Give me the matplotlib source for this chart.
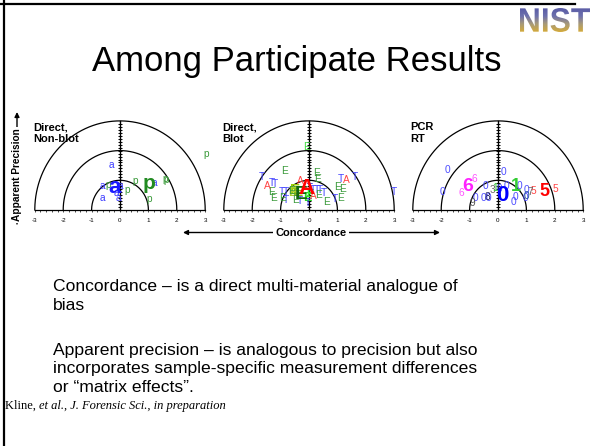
import numpy as np
import matplotlib
matplotlib.use("Agg")
import matplotlib.pyplot as plt
from matplotlib.colors import LinearSegmentedColormap
from matplotlib.font_manager import FontProperties
from matplotlib.patches import PathPatch
from matplotlib.textpath import TextPath

plt.rcParams["font.family"] = ["Liberation Sans", "DejaVu Sans"]

W, H = 593, 446

# ---- panel 1: Direct, Non-blot ----
P1_A_X = [-0.29, -0.61, 0.02, -0.12, -0.06, -0.61, 1.21]
P1_A_Y = [1.52, 0.81, 0.81, 0.58, 0.39, 0.39, 0.90]
P1_P_X = [-0.43, 0.24, 0.53, 1.02, 1.64, 1.60, 3.03]
P1_P_Y = [0.84, 0.67, 0.98, 0.37, 1.01, 1.03, 1.90]
P1_MEAN_LAB = ["a", "p"]
P1_MEAN_X = [-0.20, 1.03]
P1_MEAN_Y = [0.76, 0.90]

# ---- panel 2: Direct, Blot ----
P2_T_X = [-1.66, -1.31, -1.19, -0.97, -0.83, -0.82, -0.31, 0.02, 0.12, 0.26,
          0.38, 0.52, 0.91, 1.13, 1.62, 2.99, -0.05]
P2_T_Y = [1.11, 0.91, 0.88, 0.62, 0.62, 0.34, 0.30, 0.73, 0.68, 0.67,
          0.67, 0.57, 0.37, 1.05, 1.10, 0.62, 0.25]
P2_E_X = [-0.87, 0.28, 0.31, -1.31, -1.26, -0.93, -0.49, 0.33, 0.60, 1.00,
          1.19, 1.12, -0.62]
P2_E_Y = [1.30, 1.24, 1.05, 0.60, 0.39, 0.39, 0.34, 0.50, 0.28, 0.76,
          0.70, 0.41, 0.64]
P2_A_X = [-1.48, -0.29, 0.15, 1.32]
P2_A_Y = [0.80, 0.97, 0.46, 1.01]
P2_LIME_X = [-0.08, -0.50, -0.38, -0.60, -0.05, 0.05]
P2_LIME_Y = [2.13, 0.68, 0.62, 0.58, 0.40, 0.55]
P2_MEAN_LAB = ["E", "A"]
P2_MEAN_X = [-0.26, -0.10]
P2_MEAN_Y = [0.52, 0.73]

# ---- panel 3: PCR RT ----
P3_0_X = [-1.79, -1.95, -0.43, -0.78, -0.50, -0.32, 0.04, 0.18, 0.53, 0.62,
          0.76, 0.99, 0.97, 0.30]
P3_0_Y = [1.35, 0.62, 0.81, 0.39, 0.39, 0.42, 0.70, 1.29, 0.28, 0.45,
          0.81, 0.67, 0.39, 0.80]
P3_6_X = [-1.29, -0.82]
P3_6_Y = [0.58, 1.04]
P3_5_X = [1.25, 2.02]
P3_5_Y = [0.64, 0.70]
P3_OTHER_LAB = ["9", "8", "3", "7", "1", "0"]
P3_OTHER_X = [-0.90, -0.37, -0.20, 1.13, -0.10, 1.00]
P3_OTHER_Y = [0.25, 0.45, 0.67, 0.60, 0.75, 0.47]
P3_MEAN_LAB = ["6", "0", "1", "5"]
P3_MEAN_X = [-1.05, 0.15, 0.64, 1.64]
P3_MEAN_Y = [0.79, 0.50, 0.79, 0.62]

TICKS = [-3, -2, -1, 0, 1, 2, 3]

fig = plt.figure(figsize=(W / 100, H / 100), dpi=100)
bg = fig.add_axes([0, 0, 1, 1])
bg.set_xlim(0, W); bg.set_ylim(H, 0); bg.axis("off")

UX, UY = 28.4, 29.7
XL, YL = (-3.6, 3.6), (-0.6, 3.4)
SMALL = 7.3


def panel(cx, base):
    left = cx + XL[0] * UX
    top = base - YL[1] * UY
    w = (XL[1] - XL[0]) * UX
    h = (YL[1] - YL[0]) * UY
    ax = fig.add_axes([left / W, (H - top - h) / H, w / W, h / H])
    ax.set_xlim(*XL); ax.set_ylim(*YL); ax.axis("off")
    th = np.linspace(0, np.pi, 200)
    for r in (1, 2, 3):
        ax.plot(r * np.cos(th), r * np.sin(th), color="black", lw=0.9)
    ax.plot([-3, 3], [0, 0], color="black", lw=0.9)
    tx = np.arange(-3, 3.01, 0.2)
    ax.vlines(tx, -0.07, 0, color="black", lw=0.5)
    ax.plot([0, 0], [0, 3], color="black", lw=1.0)
    ty = np.arange(0.1, 3.0, 0.1)
    ax.hlines(ty, -0.07, 0.07, color="black", lw=0.7)
    for t in TICKS:
        ax.text(t, -0.34, str(t), ha="center", va="center", fontsize=4.5)
    return ax


def letters(ax, lab, xs, ys, color, size, bold=False):
    if isinstance(lab, str):
        lab = [lab] * len(xs)
    for l, x, y in zip(lab, xs, ys):
        ax.text(x, y, l, ha="center", va="center", color=color, fontsize=size,
                fontweight="bold" if bold else "normal")


ax1 = panel(120, 210)
letters(ax1, "a", P1_A_X, P1_A_Y, "#3b3bff", SMALL)
letters(ax1, "p", P1_P_X, P1_P_Y, "#3a9a3a", SMALL)
letters(ax1, [P1_MEAN_LAB[0]], P1_MEAN_X[:1], P1_MEAN_Y[:1], "#1a1aff", 16, True)
letters(ax1, [P1_MEAN_LAB[1]], P1_MEAN_X[1:], P1_MEAN_Y[1:], "#228b22", 15, True)

ax2 = panel(309, 210)
lime_cols = ["#44dd44", "#99cc00", "#88bb11", "#aacc33", "#22dd22", "#33ee33"]
lime_size = [SMALL, 11, 11, 9, 9, 8]
for x, y, c, s in zip(P2_LIME_X, P2_LIME_Y, lime_cols, lime_size):
    letters(ax2, "E", [x], [y], c, s, s > SMALL)
letters(ax2, "T", P2_T_X, P2_T_Y, "#4444ff", SMALL)
letters(ax2, "E", P2_E_X, P2_E_Y, "#3a9a3a", SMALL)
letters(ax2, "A", P2_A_X, P2_A_Y, "#ff4444", SMALL)
letters(ax2, [P2_MEAN_LAB[0]], P2_MEAN_X[:1], P2_MEAN_Y[:1], "#116611", 14, True)
letters(ax2, [P2_MEAN_LAB[1]], P2_MEAN_X[1:], P2_MEAN_Y[1:], "#ff0000", 16, True)

ax3 = panel(498, 210)
letters(ax3, "0", P3_0_X, P3_0_Y, "#4d4dff", SMALL)
letters(ax3, "6", P3_6_X, P3_6_Y, "#ff55ff", SMALL)
letters(ax3, "5", P3_5_X, P3_5_Y, "#ff4444", SMALL)
other_cols = ["#555555", "#222266", "#666666", "#666666", "#33cc33", "#225599"]
for l, x, y, c in zip(P3_OTHER_LAB, P3_OTHER_X, P3_OTHER_Y, other_cols):
    letters(ax3, [l], [x], [y], c, SMALL)
mean_cols = ["#ff22ff", "#0000ff", "#33cc33", "#ff0000"]
mean_size = [14, 16, 13, 13]
for l, x, y, c, s in zip(P3_MEAN_LAB, P3_MEAN_X, P3_MEAN_Y, mean_cols, mean_size):
    letters(ax3, [l], [x], [y], c, s, True)

# panel names
for x, name in [(33, "Direct,\nNon-blot"), (222, "Direct,\nBlot"), (410, "PCR\nRT")]:
    bg.text(x, 122, name, ha="left", va="top", fontsize=8, fontweight="bold",
            linespacing=1.25)

# axis arrows
bg.annotate("", xy=(183, 232.5), xytext=(440, 232.5),
            arrowprops=dict(arrowstyle="<|-|>", color="black", lw=1.0,
                            mutation_scale=7, shrinkA=0, shrinkB=0))
bg.text(311, 232.5, "Concordance", ha="center", va="center", fontsize=8,
        fontweight="bold", bbox=dict(fc="white", ec="none", pad=1.5))
bg.annotate("", xy=(17, 112), xytext=(17, 224),
            arrowprops=dict(arrowstyle="-|>", color="black", lw=1.0,
                            mutation_scale=7, shrinkA=0, shrinkB=0))
bg.text(17, 175, "Apparent Precision", ha="center", va="center", rotation=90,
        fontsize=7.3, fontweight="bold", bbox=dict(fc="white", ec="none", pad=1.0))

# title and body text
bg.text(297, 62, "Among Participate Results", ha="center", va="center", fontsize=25)
body = [(287, "Concordance \u2013 is a direct multi-material analogue of"),
        (306, "bias"),
        (350, "Apparent precision \u2013 is analogous to precision but also"),
        (368.5, "incorporates sample-specific measurement differences"),
        (387, "or \u201cmatrix effects\u201d.")]
for y, s in body:
    bg.text(53, y, s, ha="left", va="center", fontsize=12.6)

serif = ["Liberation Serif", "DejaVu Serif"]
t1 = bg.text(5, 406, "Kline, ", ha="left", va="center", fontsize=9, family=serif)
bg.annotate("et al., J. Forensic Sci., in preparation", xy=(1, 0.5), xycoords=t1,
            ha="left", va="center", fontsize=9, family=serif, style="italic")

# slide border
bg.plot([4, 4], [0, H], color="black", lw=1.6)
bg.plot([0, 575], [3.5, 3.5], color="black", lw=1.6)

# NIST logo
lg = fig.add_axes([520 / W, (H - 32) / H, 70 / W, 24 / H])
tp = TextPath((0, 0), "NIST", size=1,
              prop=FontProperties(family="Liberation Sans", weight="bold"))
ext = tp.get_extents()
lg.set_xlim(ext.x0, ext.x1); lg.set_ylim(ext.y0, ext.y1); lg.axis("off")
patch = PathPatch(tp, fc="none", ec="none")
lg.add_patch(patch)
cmap = LinearSegmentedColormap.from_list("nist", ["#d4aa3a", "#a89a78", "#6d70ad", "#5a5ca6"])
grad = np.linspace(0, 1, 64).reshape(-1, 1)
im = lg.imshow(grad, cmap=cmap, origin="lower", aspect="auto",
               extent=[ext.x0, ext.x1, ext.y0, ext.y1])
im.set_clip_path(patch)

fig.savefig("out.png", dpi=100)
